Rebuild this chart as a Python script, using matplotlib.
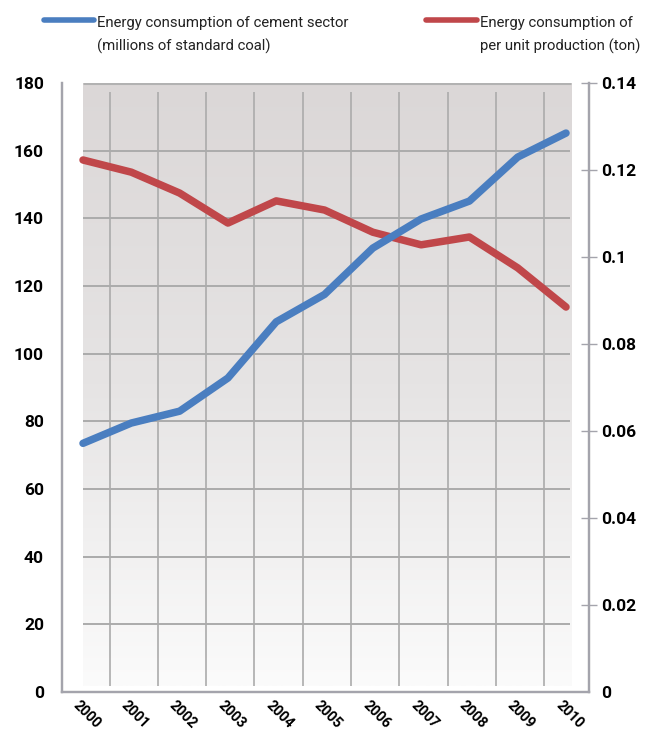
import numpy as np
import matplotlib
matplotlib.use("Agg")
import matplotlib.pyplot as plt
from matplotlib.lines import Line2D
from matplotlib.transforms import ScaledTranslation

years = ['2000', '2001', '2002', '2003', '2004', '2005', '2006', '2007', '2008', '2009', '2010']
cement_energy = [73.5, 79.5, 83.0, 92.8, 109.4, 117.5, 131.2, 139.8, 145.1, 158.1, 165.2]
unit_energy = [0.1223, 0.1195, 0.1147, 0.1078, 0.1129, 0.1108, 0.1057, 0.1028, 0.1046, 0.0975, 0.0885]
left_ticks = [0, 20, 40, 60, 80, 100, 120, 140, 160, 180]
right_ticks = [0, 0.02, 0.04, 0.06, 0.08, 0.1, 0.12, 0.14]
right_labels = ['0', '0.02', '0.04', '0.06', '0.08', '0.1', '0.12', '0.14']
blue_label = 'Energy consumption of cement sector\n(millions of standard coal)'
red_label = 'Energy consumption of\nper unit production (ton)'

BLUE = '#4a7ec0'
RED = '#c0474a'
AXIS = '#a4a4ac'
GRID = '#ababab'
num_font = ['Roboto', 'DejaVu Sans']
txt_font = ['Roboto', 'DejaVu Sans']

W, H = 653, 731
fig = plt.figure(figsize=(W / 100, H / 100), dpi=100)
ax = fig.add_axes([62 / W, 1 - 692 / H, (589 - 62) / W, (692 - 83) / H])
ax2 = ax.twinx()

x = np.arange(len(years))
ax.set_xlim(-0.435, 10.476)
ax.set_ylim(0, 180)
ax2.set_ylim(0, 0.14)

# grey fading background behind the plot
grad = np.linspace(0, 1, 256).reshape(-1, 1)
cmap = matplotlib.colors.LinearSegmentedColormap.from_list('bg', ['#dbd7d7', '#e6e4e4', '#fbfbfb'])
ax.imshow(grad, cmap=cmap, extent=[-0.01, 10.1, 1.8, 180], aspect='auto', zorder=0, origin='upper')

ax.hlines(left_ticks[1:-1], -0.01, 10.08, color=GRID, lw=1.4, zorder=1)
ax.hlines([180], -0.01, 10.1, color='#b2b2b2', lw=2.2, zorder=1)
ax.vlines(x[:-1] + 0.55, 1.8, 177.3, color=GRID, lw=1.2, zorder=1)

ax.plot(x, unit_energy, color=RED, lw=5.4, solid_capstyle='round', solid_joinstyle='round',
        transform=ax2.transData, zorder=3)
ax.plot(x, cement_energy, color=BLUE, lw=5.4, solid_capstyle='round', solid_joinstyle='round', zorder=4)
ax.set_xlim(-0.435, 10.476)
ax.set_ylim(0, 180)

# axes frame
for a in (ax, ax2):
    a.spines['top'].set_visible(False)
    for s in ('left', 'right', 'bottom'):
        a.spines[s].set_color(AXIS)
        a.spines[s].set_linewidth(1.6)

ax.set_xticks([])
ax.set_yticks(left_ticks)
ax.set_yticklabels([str(v) for v in left_ticks], fontfamily=num_font, fontsize=12.5, fontweight='bold')
ax.tick_params(axis='y', length=0, pad=13)

ax2.set_yticks(right_ticks)
ax2.set_yticklabels(right_labels, fontfamily=num_font, fontsize=12.5, fontweight='bold')
ax2.tick_params(axis='y', direction='inout', length=12, width=1, color=AXIS, pad=3)
ax2.yaxis.get_major_ticks()[0].tick2line.set_visible(False)

# slanted year labels
off = ScaledTranslation(-3 / 100, -6 / 100, fig.dpi_scale_trans)
for i, yr in enumerate(years):
    ax.text(i, 0, yr, transform=ax.get_xaxis_transform() + off, rotation=-45,
            rotation_mode='anchor', ha='left', va='top', fontfamily=num_font,
            fontsize=10.3, fontweight='bold')

# legend drawn by hand at the top
fig.add_artist(Line2D([44 / W, 94 / W], [1 - 19.5 / H] * 2, transform=fig.transFigure,
                      color=BLUE, lw=4, solid_capstyle='round'))
fig.add_artist(Line2D([426 / W, 477 / W], [1 - 19.5 / H] * 2, transform=fig.transFigure,
                      color=RED, lw=4, solid_capstyle='round'))
fig.text(97 / W, 1 - 16 / H, blue_label, ha='left', va='top', fontfamily=txt_font,
         fontsize=10.7, color='#222222', linespacing=1.7)
fig.text(480 / W, 1 - 16 / H, red_label, ha='left', va='top', fontfamily=txt_font,
         fontsize=10.7, color='#222222', linespacing=1.7)

fig.savefig('out.png', dpi=100)
